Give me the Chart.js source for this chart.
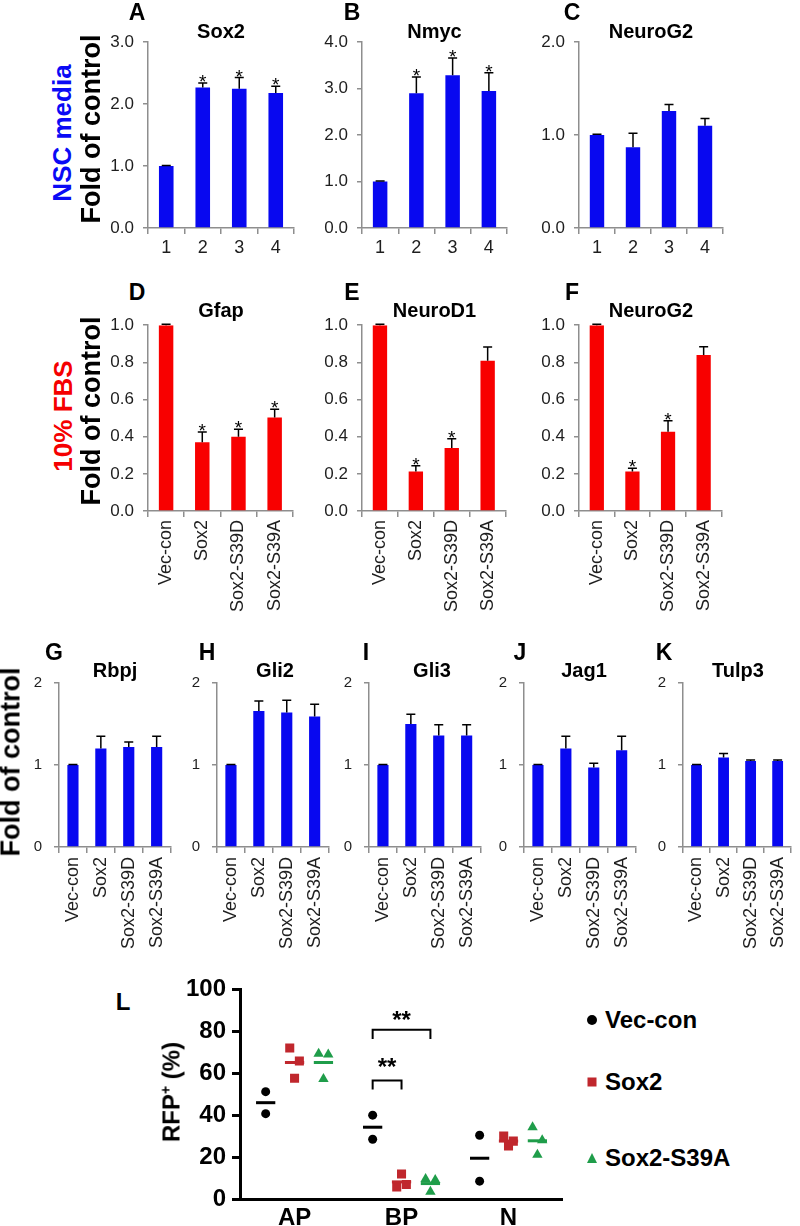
<!DOCTYPE html>
<html lang="en">
<head>
<meta charset="UTF-8">
<title>Sox2 panels</title>
<script src="https://cdn.jsdelivr.net/npm/chart.js"></script>
<style>
  body { margin: 0; background: #fff; }
  #page { position: relative; width: 800px; height: 1226px; overflow: hidden; background: #fff;
          font-family: 'Liberation Sans', Arial, Helvetica, sans-serif; }
  #page canvas { position: absolute; }
  .txt { position: absolute; white-space: nowrap; line-height: 1; transform: translate(-50%, -50%); }
  .rot { transform: translate(-50%, -50%) rotate(-90deg); }
  .mk { position: absolute; transform: translate(-50%, -50%); }
</style>
</head>
<body>
<div id="page"></div>
<script>
// ---- data ----
const numLabels = ['1', '2', '3', '4'];
const groupLabels = ['Vec-con', 'Sox2', 'Sox2-S39D', 'Sox2-S39A'];

// NSC media
const sox2Nsc = [1.0, 2.27, 2.25, 2.18];
const sox2NscErr = [0.01, 0.07, 0.18, 0.11];
const sox2NscStar = [0, 1, 1, 1];
const nmycNsc = [1.0, 2.90, 3.29, 2.95];
const nmycNscErr = [0.01, 0.35, 0.37, 0.39];
const nmycNscStar = [0, 1, 1, 1];
const neurog2Nsc = [1.0, 0.87, 1.26, 1.10];
const neurog2NscErr = [0.01, 0.15, 0.07, 0.08];
const neurog2NscStar = [0, 0, 0, 0];

// 10% FBS
const gfapFbs = [1.0, 0.37, 0.40, 0.503];
const gfapFbsErr = [0.005, 0.055, 0.04, 0.045];
const gfapFbsStar = [0, 1, 1, 1];
const neurod1Fbs = [1.0, 0.213, 0.339, 0.808];
const neurod1FbsErr = [0.005, 0.03, 0.05, 0.075];
const neurod1FbsStar = [0, 1, 1, 0];
const neurog2Fbs = [1.0, 0.213, 0.426, 0.84];
const neurog2FbsErr = [0.005, 0.017, 0.06, 0.044];
const neurog2FbsStar = [0, 1, 1, 0];

// G-K
const rbpj = [1.0, 1.20, 1.22, 1.22];
const rbpjErr = [0.005, 0.15, 0.06, 0.13];
const gli2 = [1.0, 1.66, 1.64, 1.59];
const gli2Err = [0.005, 0.12, 0.15, 0.15];
const gli3 = [1.0, 1.50, 1.36, 1.36];
const gli3Err = [0.005, 0.12, 0.13, 0.13];
const jag1 = [1.0, 1.20, 0.97, 1.18];
const jag1Err = [0.005, 0.15, 0.05, 0.17];
const tulp3 = [1.0, 1.09, 1.05, 1.05];
const tulp3Err = [0.005, 0.05, 0.01, 0.01];
const noStar = [0, 0, 0, 0];

// L: RFP+ (%)
const lCats = ['AP', 'BP', 'N'];
const lSeries = ['Vec-con', 'Sox2', 'Sox2-S39A'];
const vecConL = [[51.2, 40.7], [40.0, 28.5], [30.4, 8.5]];
const sox2L = [[72.0, 65.8, 57.6], [5.7, 6.9, 11.9], [30.0, 27.6, 25.3]];
const s39aL = [[69.3, 68.9, 57.2], [9.6, 9.1, 3.4], [34.2, 28.0, 21.1]];
const lSig = [
  { cat: 1, from: 0, to: 1, top: 56.5, leg: 52.2, text: 64.5 },
  { cat: 1, from: 0, to: 2, top: 80.7, leg: 76.3, text: 87 }
];

// ---- styles ----
const FONT = "'Liberation Sans', Arial, Helvetica, sans-serif";
const BLUE = '#0808f0';
const RED = '#f80000';
const AX = '#8e8e8e';
const TICK = '#1e1e1e';
const page = document.getElementById('page');

function addText(txt, x, y, css, rot) {
  const d = document.createElement('div');
  d.className = 'txt' + (rot ? ' rot' : '');
  d.innerHTML = txt;
  d.style.left = x + 'px';
  d.style.top = y + 'px';
  d.style.cssText += css;
  page.appendChild(d);
}

const errPlugin = {
  id: 'errbars',
  afterDatasetsDraw(chart, args, o) {
    const ctx = chart.ctx, y = chart.scales.y;
    const vals = chart.data.datasets[0].data;
    ctx.save();
    chart.getDatasetMeta(0).data.forEach((bar, i) => {
      const top = y.getPixelForValue(vals[i] + o.err[i]);
      ctx.strokeStyle = '#000';
      ctx.lineWidth = 1.5;
      ctx.beginPath();
      ctx.moveTo(bar.x, bar.y);
      ctx.lineTo(bar.x, top);
      ctx.moveTo(bar.x - 4.5, top);
      ctx.lineTo(bar.x + 4.5, top);
      ctx.stroke();
      if (o.stars[i]) {
        ctx.fillStyle = '#000';
        ctx.font = '19px ' + FONT;
        ctx.textAlign = 'center';
        ctx.textBaseline = 'alphabetic';
        ctx.fillText('*', bar.x, top + 5);
      }
    });
    ctx.restore();
  }
};

function barPanel(p) {
  const YW = p.yw, PT = 14, PR = 6, XH = p.xh;
  const cv = document.createElement('canvas');
  cv.width = p.r - p.l + YW + PR;
  cv.height = p.b - p.t + PT + XH;
  cv.style.left = (p.l - YW) + 'px';
  cv.style.top = (p.t - PT) + 'px';
  page.appendChild(cv);
  new Chart(cv, {
    type: 'bar',
    data: {
      labels: p.labels,
      datasets: [{ data: p.vals, backgroundColor: p.color, barPercentage: 0.8, categoryPercentage: 0.5 }]
    },
    options: {
      responsive: false,
      animation: false,
      events: [],
      layout: { padding: { top: PT, right: PR, left: 0, bottom: 0 } },
      plugins: {
        legend: { display: false },
        tooltip: { enabled: false },
        errbars: { err: p.err, stars: p.stars }
      },
      scales: {
        x: {
          grid: { offset: true, drawOnChartArea: false, tickLength: 6, color: AX, lineWidth: 1.5 },
          border: { color: AX, width: 1.5 },
          ticks: { color: TICK, font: { size: 18, family: FONT }, padding: p.xpad,
                   minRotation: p.rot, maxRotation: p.rot, autoSkip: false },
          afterFit(s) { s.height = XH; }
        },
        y: {
          min: 0, max: p.max,
          grid: { drawOnChartArea: false, tickLength: 5, color: AX, lineWidth: 1.5 },
          border: { color: AX, width: 1.5 },
          ticks: { stepSize: p.step, color: TICK, font: { size: p.yfs, family: FONT }, padding: p.ypad,
                   callback: v => v.toFixed(p.dec) },
          afterFit(s) { s.width = YW; }
        }
      }
    },
    plugins: [errPlugin]
  });
  addText(p.letter, p.lx, p.ly, 'font-weight:bold;font-size:23px;');
  addText(p.title, p.tx !== undefined ? p.tx : (p.l + p.r) / 2, p.ty, 'font-weight:bold;font-size:20px;');
}

const row1 = { t: 37.3, b: 228.3, xh: 40, rot: 0, xpad: 3, yfs: 17, ypad: 9, yw: 60, dec: 1, color: BLUE, labels: numLabels, ly: 12, ty: 31 };
const row2 = { t: 320, b: 511, xh: 115, rot: 90, xpad: 3, yfs: 17, ypad: 9, yw: 60, dec: 1, color: RED, labels: groupLabels, ly: 292, ty: 310, max: 1, step: 0.2 };
const row3 = { t: 676, b: 847, xh: 115, rot: 90, xpad: 4, yfs: 15, ypad: 12, yw: 50, dec: 0, color: BLUE, labels: groupLabels, ly: 652, ty: 670, max: 2, step: 1, stars: noStar };

const panels = [
  Object.assign({}, row1, { letter: 'A', lx: 137, title: 'Sox2', l: 148, r: 294, vals: sox2Nsc, err: sox2NscErr, stars: sox2NscStar, max: 3, step: 1 }),
  Object.assign({}, row1, { letter: 'B', lx: 352, title: 'Nmyc', l: 362, r: 507, vals: nmycNsc, err: nmycNscErr, stars: nmycNscStar, max: 4, step: 1 }),
  Object.assign({}, row1, { letter: 'C', lx: 572, title: 'NeuroG2', l: 579, r: 723, vals: neurog2Nsc, err: neurog2NscErr, stars: neurog2NscStar, max: 2, step: 1 }),
  Object.assign({}, row2, { letter: 'D', lx: 137, title: 'Gfap', l: 148, r: 294, vals: gfapFbs, err: gfapFbsErr, stars: gfapFbsStar }),
  Object.assign({}, row2, { letter: 'E', lx: 352, title: 'NeuroD1', l: 362, r: 507, vals: neurod1Fbs, err: neurod1FbsErr, stars: neurod1FbsStar }),
  Object.assign({}, row2, { letter: 'F', lx: 572, title: 'NeuroG2', l: 579, r: 723, vals: neurog2Fbs, err: neurog2FbsErr, stars: neurog2FbsStar }),
  Object.assign({}, row3, { letter: 'G', lx: 54, title: 'Rbpj', tx: 115, l: 59, r: 177, vals: rbpj, err: rbpjErr }),
  Object.assign({}, row3, { letter: 'H', lx: 207, title: 'Gli2', tx: 275, l: 217, r: 335, vals: gli2, err: gli2Err }),
  Object.assign({}, row3, { letter: 'I', lx: 366, title: 'Gli3', tx: 432, l: 369, r: 487, vals: gli3, err: gli3Err }),
  Object.assign({}, row3, { letter: 'J', lx: 520, title: 'Jag1', tx: 584, l: 524, r: 642, vals: jag1, err: jag1Err }),
  Object.assign({}, row3, { letter: 'K', lx: 664, title: 'Tulp3', tx: 738, l: 683, r: 798, vals: tulp3, err: tulp3Err })
];
panels.forEach(barPanel);

// row captions
addText('NSC media', 62, 133, 'font-weight:bold;font-size:26px;color:#0a0af5;', true);
addText('Fold of control', 91, 129, 'font-weight:bold;font-size:27px;color:#000;', true);
addText('10% FBS', 63, 416, 'font-weight:bold;font-size:26px;color:#f50000;', true);
addText('Fold of control', 91, 411, 'font-weight:bold;font-size:27px;color:#000;', true);
addText('Fold of control', 11, 762, 'font-weight:bold;font-size:27px;color:#000;', true);

// ---- panel L ----
const SERIES_OFF = [-0.27, 0, 0.27];
const JIT = [-0.045, 0.045, 0];
const lColors = ['#000000', '#c0272d', '#1f9d4a'];
const lGroups = [vecConL, sox2L, s39aL];

function lPoints(groups, si) {
  const pts = [];
  groups.forEach((vals, ci) => {
    vals.forEach((v, k) => {
      const j = vals.length > 2 ? JIT[k] : 0;
      pts.push({ x: ci + 1 + SERIES_OFF[si] + j, y: v });
    });
  });
  return pts;
}

const meanPlugin = {
  id: 'means',
  afterDatasetsDraw(chart) {
    const ctx = chart.ctx, xs = chart.scales.x, ys = chart.scales.y;
    ctx.save();
    ctx.lineWidth = 3;
    lGroups.forEach((groups, si) => {
      ctx.strokeStyle = lColors[si];
      groups.forEach((vals, ci) => {
        const m = vals.reduce((a, b) => a + b, 0) / vals.length;
        const cx = ci + 1 + SERIES_OFF[si];
        const py = ys.getPixelForValue(m);
        ctx.beginPath();
        ctx.moveTo(xs.getPixelForValue(cx - 0.09), py);
        ctx.lineTo(xs.getPixelForValue(cx + 0.09), py);
        ctx.stroke();
      });
    });
    // significance brackets
    ctx.strokeStyle = '#000';
    ctx.lineWidth = 2;
    ctx.fillStyle = '#000';
    ctx.font = 'bold 24px ' + FONT;
    ctx.textAlign = 'center';
    ctx.textBaseline = 'middle';
    lSig.forEach(s => {
      const x1 = xs.getPixelForValue(s.cat + 1 + SERIES_OFF[s.from]);
      const x2 = xs.getPixelForValue(s.cat + 1 + SERIES_OFF[s.to]);
      const yt = ys.getPixelForValue(s.top), yl = ys.getPixelForValue(s.leg);
      ctx.beginPath();
      ctx.moveTo(x1, yl); ctx.lineTo(x1, yt); ctx.lineTo(x2, yt); ctx.lineTo(x2, yl);
      ctx.stroke();
      ctx.fillText('**', (x1 + x2) / 2, ys.getPixelForValue(s.text) + 5);
    });
    ctx.restore();
  }
};

(function () {
  const l = 240, r = 562, t = 983, b = 1199, YW = 70, PT = 14, PR = 10, XH = 36;
  const cv = document.createElement('canvas');
  cv.width = r - l + YW + PR;
  cv.height = b - t + PT + XH;
  cv.style.left = (l - YW) + 'px';
  cv.style.top = (t - PT) + 'px';
  page.appendChild(cv);
  new Chart(cv, {
    type: 'scatter',
    data: {
      datasets: lGroups.map((g, si) => ({
        label: lSeries[si],
        data: lPoints(g, si),
        pointStyle: ['circle', 'rect', 'triangle'][si],
        pointRadius: [4.5, 6.4, 6][si],
        pointBackgroundColor: lColors[si],
        pointBorderWidth: 0
      }))
    },
    options: {
      responsive: false,
      animation: false,
      events: [],
      layout: { padding: { top: PT, right: PR, left: 0, bottom: 0 } },
      plugins: { legend: { display: false }, tooltip: { enabled: false } },
      scales: {
        x: {
          type: 'linear', min: 0.49, max: 3.5,
          afterBuildTicks(s) { s.ticks = lCats.map((c, i) => ({ value: i + 1 })); },
          grid: { display: false, drawTicks: false },
          border: { color: '#000', width: 3 },
          ticks: { color: '#000', font: { size: 24, weight: 'bold', family: FONT }, padding: 5,
                   callback: v => lCats[v - 1] },
          afterFit(s) { s.height = XH; }
        },
        y: {
          min: 0, max: 100,
          grid: { drawOnChartArea: false, tickLength: 8, color: '#000', lineWidth: 3 },
          border: { color: '#000', width: 3 },
          ticks: { stepSize: 20, color: '#000', font: { size: 24, weight: 'bold', family: FONT }, padding: 6 },
          afterFit(s) { s.width = YW; }
        }
      }
    },
    plugins: [meanPlugin]
  });
})();

addText('L', 123, 1002, 'font-weight:bold;font-size:24px;');
addText('RFP<sup style="font-size:14px;vertical-align:9px">+</sup> (%)', 171, 1092, 'font-weight:bold;font-size:24px;', true);

// legend for L
const legY = [1020, 1082, 1158];
lSeries.forEach((name, si) => {
  const m = document.createElement('div');
  m.className = 'mk';
  m.style.left = '592px';
  m.style.top = legY[si] + 'px';
  if (si === 0) {
    m.style.cssText += 'width:10px;height:10px;border-radius:50%;background:' + lColors[0] + ';';
  } else if (si === 1) {
    m.style.cssText += 'width:9px;height:9px;background:' + lColors[1] + ';';
  } else {
    m.style.cssText += 'width:0;height:0;border-left:5.5px solid transparent;border-right:5.5px solid transparent;border-bottom:10px solid ' + lColors[2] + ';';
  }
  page.appendChild(m);
  const d = document.createElement('div');
  d.className = 'txt';
  d.textContent = name;
  d.style.cssText += 'left:605px;top:' + legY[si] + 'px;transform:translate(0,-50%);font-weight:bold;font-size:24px;';
  page.appendChild(d);
});
</script>
</body>
</html>
